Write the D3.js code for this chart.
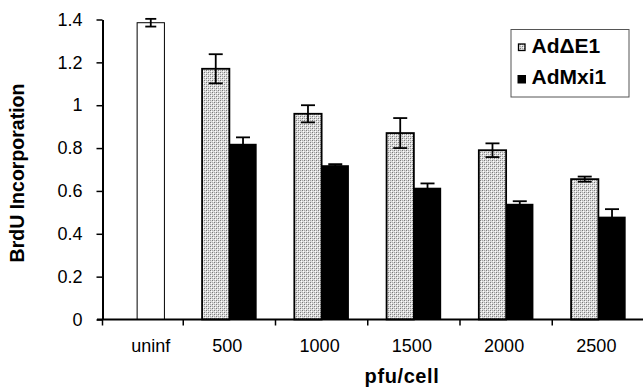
<!DOCTYPE html>
<html>
<head>
<meta charset="utf-8">
<script src="https://cdn.jsdelivr.net/npm/d3@7"></script>
<style>
  body { margin: 0; background: #fff; }
  svg { display: block; font-family: "Liberation Sans", Arial, sans-serif; }
</style>
</head>
<body>
<figure id="bar" style="margin:0"></figure>
<script>
// data
const categories = ["uninf", "500", "1000", "1500", "2000", "2500"];
const seriesNames = ["Ad\u0394E1", "AdMxi1"];
const uninfValue = 1.385;
const uninfErr = 0.018;
const adE1Values = [1.17, 0.96, 0.87, 0.79, 0.655];
const adE1Err = [0.068, 0.04, 0.07, 0.032, 0.012];
const adMxiValues = [0.82, 0.72, 0.615, 0.54, 0.48];
const adMxiErr = [0.03, 0.005, 0.02, 0.012, 0.035];
const yTicks = [0, 0.2, 0.4, 0.6, 0.8, 1, 1.2, 1.4];

const width = 643, height = 387;
const axisX = 102.5, axisY = 319.5;

const svg = d3.select("figure#bar")
  .append("svg")
  .attr("width", width)
  .attr("height", height);

// stipple fill used for the AdΔE1 bars
const pat = svg.append("defs").append("pattern")
  .attr("id", "stipple")
  .attr("patternUnits", "userSpaceOnUse")
  .attr("width", 4).attr("height", 4);
pat.append("rect").attr("width", 4).attr("height", 4).attr("fill", "#dcdcdc");
[[0, 0], [2, 2], [1, 1], [3, 3]].forEach(([px, py], i) => {
  pat.append("rect").attr("x", px).attr("y", py).attr("width", 1).attr("height", 1)
    .attr("fill", i < 2 ? "#7a7a7a" : "#ffffff");
});
pat.append("rect").attr("x", 0).attr("y", 2).attr("width", 1).attr("height", 1).attr("fill", "#a8a8a8");
pat.append("rect").attr("x", 2).attr("y", 0).attr("width", 1).attr("height", 1).attr("fill", "#a8a8a8");

// scales
const y = d3.scaleLinear().domain([0, 1.4]).range([axisY, 19.5]);
const x = d3.scaleBand().domain(categories).range([91, 644.5]);
const xs = d3.scaleBand().domain(seriesNames).range([0, x.bandwidth()])
  .paddingInner(0).paddingOuter(0.69);

// bar data
const bars = [];
bars.push({ cat: "uninf", series: "uninf", slot: seriesNames[1], v: uninfValue, e: uninfErr });
categories.slice(1).forEach((c, i) => {
  bars.push({ cat: c, series: seriesNames[0], slot: seriesNames[0], v: adE1Values[i], e: adE1Err[i] });
  bars.push({ cat: c, series: seriesNames[1], slot: seriesNames[1], v: adMxiValues[i], e: adMxiErr[i] });
});

const fillOf = d => d.series === "uninf" ? "#fff" : d.series === seriesNames[0] ? "url(#stipple)" : "#000";

svg.append("g").selectAll("rect")
  .data(bars)
  .enter().append("rect")
  .attr("x", d => x(d.cat) + xs(d.slot))
  .attr("y", d => y(d.v))
  .attr("width", xs.bandwidth())
  .attr("height", d => y(0) - y(d.v))
  .attr("fill", fillOf)
  .attr("stroke", "#000")
  .attr("stroke-width", d => d.series === "uninf" ? 1 : d.series === seriesNames[0] ? 1.8 : 0);

// error bars
const capW = 14;
const eb = svg.append("g").attr("stroke", "#000").attr("stroke-width", 1.8);
bars.forEach(d => {
  const cx = x(d.cat) + xs(d.slot) + xs.bandwidth() / 2;
  const cw = d.series === "uninf" ? 11 : capW;
  eb.append("line").attr("x1", cx).attr("x2", cx).attr("y1", y(d.v - d.e)).attr("y2", y(d.v + d.e));
  eb.append("line").attr("x1", cx - cw / 2).attr("x2", cx + cw / 2).attr("y1", y(d.v + d.e)).attr("y2", y(d.v + d.e));
  eb.append("line").attr("x1", cx - cw / 2).attr("x2", cx + cw / 2).attr("y1", y(d.v - d.e)).attr("y2", y(d.v - d.e));
});

// Y axis
const yAxis = svg.append("g")
  .attr("transform", `translate(${axisX},0)`)
  .call(d3.axisLeft(y).tickValues(yTicks).tickFormat(d3.format("~g")).tickSize(6).tickSizeOuter(0).tickPadding(14));
yAxis.select(".domain").attr("stroke-width", 2);
yAxis.selectAll(".tick line").attr("stroke-width", 1.5);
yAxis.selectAll(".tick text").attr("font-size", "18px").attr("fill", "#000")
  .attr("font-family", "'Liberation Sans', Arial, sans-serif");

// extend y axis a little below the baseline
svg.append("line").attr("x1", axisX).attr("x2", axisX).attr("y1", axisY).attr("y2", axisY + 6)
  .attr("stroke", "#000").attr("stroke-width", 1.5);

// X axis line and group separators
svg.append("line").attr("x1", 97).attr("x2", width).attr("y1", axisY).attr("y2", axisY)
  .attr("stroke", "#000").attr("stroke-width", 2);
svg.append("g").selectAll("line")
  .data(categories.slice(1))
  .enter().append("line")
  .attr("x1", d => x(d)).attr("x2", d => x(d))
  .attr("y1", axisY).attr("y2", axisY + 6)
  .attr("stroke", "#000").attr("stroke-width", 1.5);

// category labels, centered under the drawn bars
svg.append("g").selectAll("text")
  .data(categories)
  .enter().append("text")
  .attr("x", (d, i) => i === 0
    ? x(d) + xs(seriesNames[1]) + xs.bandwidth() / 2
    : x(d) + xs(seriesNames[0]) + xs.bandwidth() - 2)
  .attr("y", 352)
  .attr("text-anchor", "middle")
  .style("font-size", "18px")
  .text(d => d);

// axis titles
svg.append("text")
  .attr("transform", "translate(24,173) rotate(-90)")
  .attr("text-anchor", "middle")
  .style("font-size", "19.5px")
  .style("font-weight", "bold")
  .text("BrdU Incorporation");

svg.append("text")
  .attr("x", 402)
  .attr("y", 383)
  .attr("text-anchor", "middle")
  .style("font-size", "20px")
  .style("font-weight", "bold")
  .style("letter-spacing", "0.6px")
  .text("pfu/cell");

// legend
const lg = svg.append("g");
lg.append("rect").attr("x", 511).attr("y", 29.5).attr("width", 118).attr("height", 67.5)
  .attr("fill", "#fff").attr("stroke", "#555").attr("stroke-width", 1);
lg.append("rect").attr("x", 518.5).attr("y", 44).attr("width", 6.5).attr("height", 6.5)
  .attr("fill", "url(#stipple)").attr("stroke", "#000").attr("stroke-width", 1.3);
lg.append("rect").attr("x", 517.5).attr("y", 75).attr("width", 8.5).attr("height", 8.5)
  .attr("fill", "#000");
lg.append("text").attr("x", 531.5).attr("y", 52.5).text(seriesNames[0])
  .style("font-size", "21px").style("font-weight", "bold");
lg.append("text").attr("x", 531.5).attr("y", 84).text(seriesNames[1])
  .style("font-size", "21px").style("font-weight", "bold");
</script>
</body>
</html>
